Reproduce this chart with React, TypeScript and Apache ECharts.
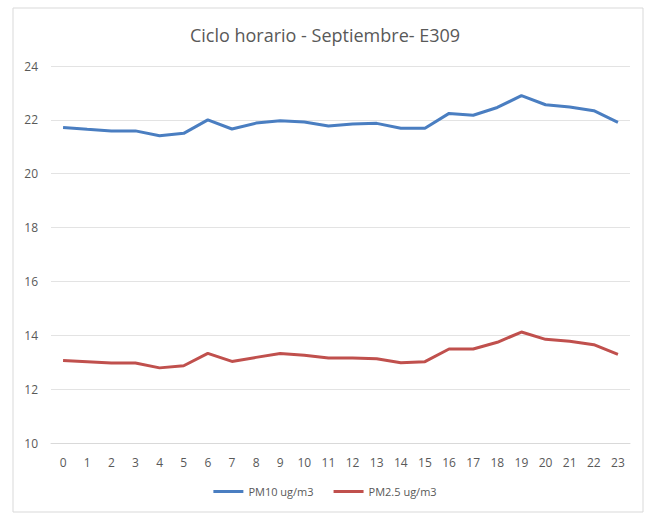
import React, { useEffect, useRef } from "react";
import * as echarts from "echarts";

const hours = ["0","1","2","3","4","5","6","7","8","9","10","11","12","13","14","15","16","17","18","19","20","21","22","23"];
const pm10 = [21.72, 21.65, 21.59, 21.59, 21.41, 21.5, 22.0, 21.66, 21.88, 21.97, 21.92, 21.77, 21.85, 21.87, 21.69, 21.69, 22.24, 22.17, 22.46, 22.9, 22.56, 22.48, 22.34, 21.91];
const pm25 = [13.06, 13.02, 12.97, 12.97, 12.79, 12.87, 13.33, 13.03, 13.18, 13.32, 13.26, 13.16, 13.16, 13.13, 12.98, 13.02, 13.49, 13.49, 13.74, 14.12, 13.85, 13.78, 13.65, 13.29];
const seriesNames = ["PM10 ug/m3", "PM2.5 ug/m3"];
const titleText = "Ciclo horario - Septiembre- E309";

export default function App() {
  const ref = useRef<HTMLDivElement>(null);
  useEffect(() => {
    if (!ref.current) return;
    const chart = echarts.init(ref.current, null, { renderer: "svg" });
    const font = "'Open Sans', 'Liberation Sans', sans-serif";
    chart.setOption({
      animation: false,
      backgroundColor: "#ffffff",
      textStyle: { fontFamily: font },
      title: {
        text: titleText,
        left: "center",
        top: 21,
        textStyle: { fontFamily: font, fontSize: 18, fontWeight: "normal", color: "#595959" },
      },
      graphic: [
        {
          type: "rect",
          shape: { x: 13, y: 8, width: 630, height: 504 },
          style: { fill: "none", stroke: "#d9d9d9", lineWidth: 1 },
          silent: true,
        },
      ],
      legend: {
        bottom: 12,
        left: "center",
        icon: "rect",
        itemWidth: 30,
        itemHeight: 3,
        itemGap: 20,
        textStyle: { fontFamily: font, fontSize: 11, color: "#595959" },
        data: seriesNames,
      },
      grid: { left: 51, right: 20, top: 66, bottom: 71, containLabel: false },
      xAxis: {
        type: "category",
        data: hours,
        boundaryGap: true,
        axisLine: { show: true, lineStyle: { color: "#d9d9d9" } },
        axisTick: { show: false },
        axisLabel: { color: "#595959", fontSize: 12, margin: 13, fontFamily: font },
      },
      yAxis: {
        type: "value",
        min: 10,
        max: 24,
        interval: 2,
        axisLine: { show: false },
        axisTick: { show: false },
        axisLabel: { color: "#595959", fontSize: 12, margin: 13, fontFamily: font },
        splitLine: { lineStyle: { color: "#e3e3e3" } },
      },
      series: [
        {
          name: seriesNames[0],
          type: "line",
          data: pm10,
          symbol: "none",
          lineStyle: { width: 3, color: "#4A7EC1" },
          itemStyle: { color: "#4A7EC1" },
        },
        {
          name: seriesNames[1],
          type: "line",
          data: pm25,
          symbol: "none",
          lineStyle: { width: 3, color: "#C0504D" },
          itemStyle: { color: "#C0504D" },
        },
      ],
    });
    return () => chart.dispose();
  }, []);
  return <div ref={ref} style={{ position: "fixed", left: 0, top: 0, width: 650, height: 514 }} />;
}
